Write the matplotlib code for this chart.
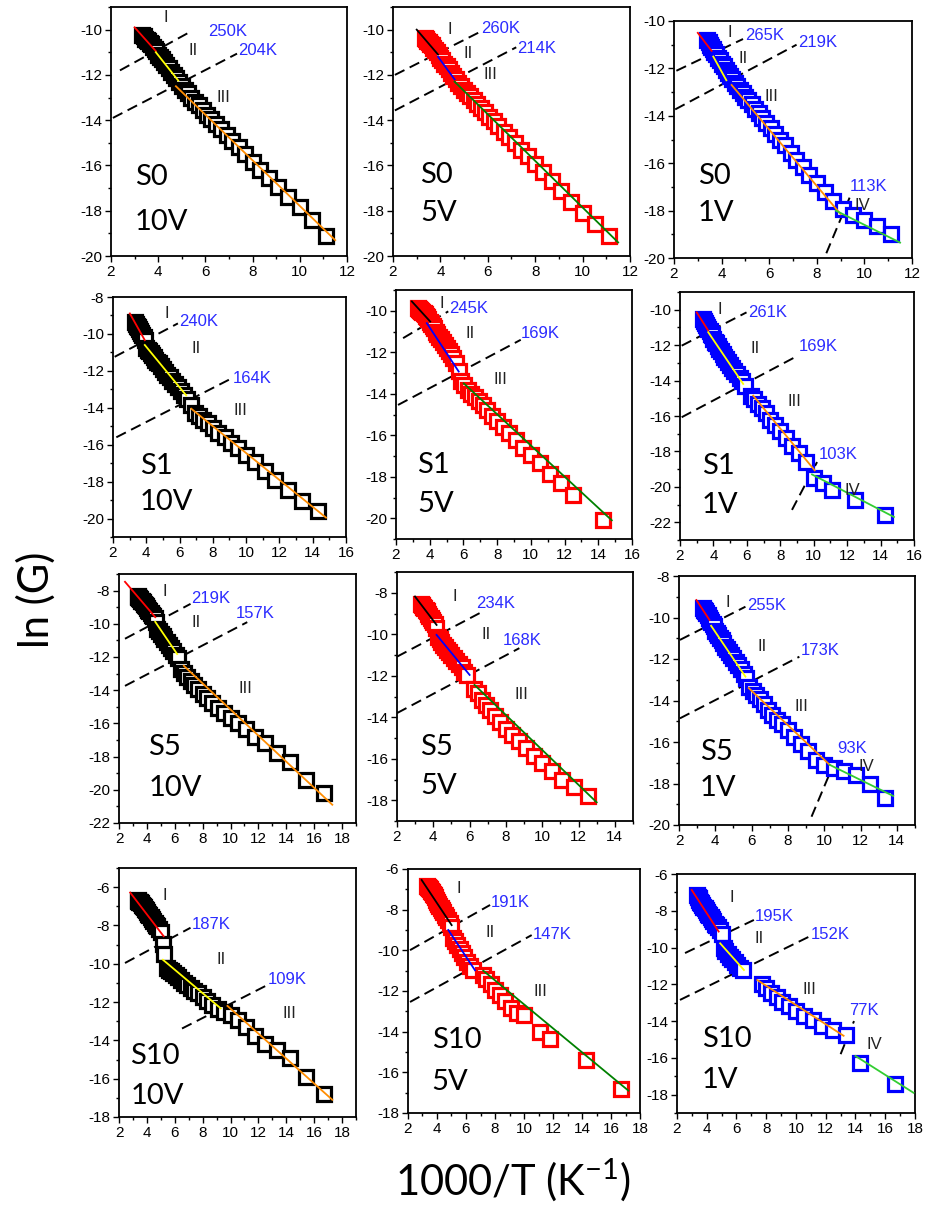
import numpy as np
import matplotlib.pyplot as plt
from matplotlib.ticker import MultipleLocator

plt.rcParams['axes.unicode_minus'] = False
nan = np.nan

# 1000/T (K^-1): 300 K down to 60 K in 5 K steps
x_grid = [3.33, 3.39, 3.45, 3.51, 3.57, 3.64, 3.70, 3.77, 3.85, 3.92,
          4.00, 4.08, 4.17, 4.26, 4.35, 4.44, 4.55, 4.65, 4.76, 4.88,
          5.00, 5.13, 5.26, 5.41, 5.56, 5.71, 5.88, 6.06, 6.25, 6.45,
          6.67, 6.90, 7.14, 7.41, 7.69, 8.00, 8.33, 8.70, 9.09, 9.52,
          10.00, 10.53, 11.11, 11.76, 12.50, 13.33, 14.29, 15.38, 16.67]

# ln(G), one list per sample / bias
s0_10v = [-10.25, -10.3, -10.4, -10.45, -10.5, -10.6, -10.65, -10.75, -10.85, -10.95,
          -11.1, -11.2, -11.3, -11.45, -11.55, -11.7, -11.85, -12.0, -12.15, -12.3,
          -12.5, -12.65, -12.8, -13.0, -13.2, -13.35, -13.55, -13.75, -13.95, -14.15,
          -14.4, -14.65, -14.9, -15.2, -15.5, -15.85, -16.2, -16.55, -16.95, -17.4,
          -17.85, -18.4, -19.1, nan, nan, nan, nan, nan, nan]
s0_5v = [-10.35, -10.4, -10.5, -10.55, -10.65, -10.7, -10.8, -10.9, -11.0, -11.1,
         -11.25, -11.35, -11.5, -11.6, -11.75, -11.9, -12.05, -12.2, -12.35, -12.5,
         -12.65, -12.8, -12.95, -13.1, -13.3, -13.45, -13.65, -13.85, -14.05, -14.25,
         -14.5, -14.75, -15.0, -15.3, -15.6, -15.95, -16.3, -16.7, -17.15, -17.6,
         -18.1, -18.6, -19.1, nan, nan, nan, nan, nan, nan]
s0_1v = [nan, -10.8, -10.9, -11.0, -11.1, -11.2, -11.3, -11.4, -11.55, -11.65,
         -11.8, -11.9, -12.05, -12.2, -12.3, -12.45, -12.6, -12.75, -12.9, -13.05,
         -13.2, -13.35, -13.5, -13.7, -13.9, -14.1, -14.3, -14.5, -14.75, -15.0,
         -15.25, -15.55, -15.85, -16.15, -16.5, -16.85, -17.2, -17.6, -17.95, -18.2,
         -18.4, -18.65, -19.0, nan, nan, nan, nan, nan, nan]
s1_10v = [-9.35, -9.45, -9.55, -9.65, -9.75, -9.85, -9.95, -10.05, -10.15, -10.35,
          -10.75, -10.85, -10.95, -11.05, -11.15, -11.25, -11.4, -11.5, -11.6, -11.75,
          -11.9, -12.05, -12.2, -12.35, -12.55, -12.7, -12.9, -13.1, -13.3, -13.55,
          -13.85, -14.3, -14.45, -14.65, -14.85, -15.1, -15.35, -15.6, -15.9, -16.2,
          -16.55, -16.95, -17.4, -17.9, -18.45, -19.05, -19.6, nan, nan]
s1_5v = [-9.85, -9.9, -9.95, -10.0, -10.05, -10.1, -10.15, -10.25, -10.3, -10.4,
         -10.55, -10.65, -10.75, -10.85, -11.0, -11.1, -11.25, -11.35, -11.5, -11.65,
         -11.8, -11.95, -12.1, -12.3, -12.5, -12.9, -13.4, -13.6, -13.8, -14.0,
         -14.15, -14.35, -14.55, -14.8, -15.05, -15.3, -15.6, -15.9, -16.25, -16.6,
         -16.95, -17.35, -17.85, -18.3, -18.9, nan, -20.1, nan, nan]
s1_1v = [nan, -10.55, -10.65, -10.75, -10.85, -10.95, -11.1, -11.2, -11.35, -11.45,
         -11.65, -11.8, -11.9, -12.05, -12.2, -12.35, -12.5, -12.65, -12.8, -12.95,
         -13.1, -13.3, -13.45, -13.65, -13.85, -14.05, -14.3, nan, -14.85, -15.05,
         -15.3, -15.55, -15.85, -16.2, -16.5, -16.85, -17.25, -17.7, -18.1, -18.6,
         -19.5, -19.8, -20.15, nan, -20.75, nan, -21.6, nan, nan]
s5_10v = [-8.35, -8.4, -8.45, -8.5, -8.6, -8.65, -8.7, -8.8, -8.85, -8.95,
          -9.05, -9.15, -9.25, -9.35, -9.45, -9.55, -9.65, -9.9, -10.3, -10.45,
          -10.6, -10.75, -10.9, -11.1, -11.3, -11.45, -11.65, -11.85, -12.05, -12.7,
          -12.95, -13.2, -13.45, -13.7, -13.95, -14.2, -14.45, -14.75, -15.05, -15.4,
          -15.65, -16.0, -16.35, -16.8, -17.2, -17.8, -18.3, -19.4, -20.2]
s5_5v = [-8.55, -8.6, -8.7, -8.75, -8.85, -8.9, -9.0, -9.1, -9.2, -9.3,
         -9.4, -9.5, -9.7, -10.15, -10.25, -10.35, -10.5, -10.6, -10.75, -10.85,
         -11.0, -11.15, -11.3, -11.45, -11.6, -11.8, -11.95, nan, -12.65, -12.85,
         -13.15, -13.4, -13.65, -13.95, -14.25, -14.55, -14.85, -15.15, -15.5, -15.85,
         -16.2, -16.6, -17.0, -17.35, -17.8, nan, nan, nan, nan]
s5_1v = [-9.55, -9.65, -9.7, -9.8, -9.9, -10.0, -10.1, -10.2, -10.3, -10.4,
         -10.65, -10.75, -10.85, -11.0, -11.1, -11.25, -11.4, -11.5, -11.65, -11.8,
         -11.95, -12.15, -12.3, -12.5, -12.7, -12.9, -13.35, -13.55, -13.75, -13.95,
         -14.15, -14.45, -14.7, -14.95, -15.15, -15.4, -15.75, -16.1, -16.45, -16.85,
         -17.1, -17.25, -17.4, -17.6, -18.0, -18.7, nan, nan, nan]
s10_10v = [-6.65, -6.7, -6.75, -6.8, -6.85, -6.95, -7.0, -7.05, -7.15, -7.2,
           -7.3, -7.4, -7.45, -7.55, -7.65, -7.75, -7.85, -7.95, -8.05, -8.2,
           -8.35, -8.95, -9.5, -10.2, -10.3, -10.4, -10.5, -10.6, -10.7, -10.85,
           -11.0, -11.1, -11.25, -11.4, -11.55, -11.75, -11.95, -12.15, -12.35, -12.5,
           -12.7, -12.95, -13.3, -13.75, -14.2, -14.5, -14.9, -15.9, -16.8]
s10_5v = [-6.85, -6.9, -6.95, -7.0, -7.1, -7.15, -7.25, -7.3, -7.4, -7.5,
          -7.6, -7.7, -7.8, -7.9, -8.0, -8.1, -8.25, -8.35, -8.5, -8.65,
          -8.85, -9.4, -9.55, -9.75, -9.95, -10.15, -10.35, -10.55, -10.75, -10.95,
          nan, nan, -11.2, -11.4, -11.65, -11.95, -12.2, -12.5, -12.85, -13.1,
          -13.2, nan, -14.0, -14.35, nan, nan, -15.4, nan, -16.8]
s10_1v = [-7.15, -7.25, -7.3, -7.4, -7.5, -7.6, -7.7, -7.8, -7.85, -7.95,
          -8.05, -8.15, -8.25, -8.35, -8.45, -8.55, -8.7, -8.8, -8.9, -9.05,
          -9.25, -10.05, -10.2, -10.35, -10.5, -10.65, -10.8, -10.95, -11.1, -11.2,
          nan, nan, nan, nan, -12.0, -12.2, -12.45, -12.7, -12.95, -13.2,
          -13.45, -13.7, -13.95, -14.25, -14.5, -14.75, -16.3, nan, -17.4]

panel_data = [s0_10v, s0_5v, s0_1v, s1_10v, s1_5v, s1_1v,
              s5_10v, s5_5v, s5_1v, s10_10v, s10_5v, s10_1v]
samples = ['S0', 'S1', 'S5', 'S10']
biases = ['10V', '5V', '1V']
marker_colors = ['black', 'red', 'blue']

x_limits = [(2, 12)] * 3 + [(2, 16)] * 3 + [(2, 19), (2, 15), (2, 15)] + [(2, 19), (2, 18), (2, 18)]
y_limits = [(-20, -9), (-20, -9), (-20, -10), (-21, -8), (-21, -9), (-23, -9),
            (-22, -7), (-19, -7), (-20, -8), (-18, -5), (-18, -6), (-19, -6)]

# fitted segments: x0, x1, y0, y1, colour
fit_lines = [
    [(3.0, 3.9, -9.9, -10.95, 'red'), (3.9, 4.85, -11.0, -12.25, 'yellow'), (4.75, 11.5, -12.5, -19.3, 'darkorange')],
    [(3.0, 3.9, -10.0, -11.1, 'black'), (3.9, 4.6, -11.2, -12.2, 'blue'), (4.6, 11.5, -12.3, -19.4, 'green')],
    [(3.0, 3.58, -10.5, -11.26, 'red'), (3.65, 4.2, -11.5, -12.5, 'yellow'), (4.42, 9.0, -12.7, -18.15, 'darkorange'), (8.8, 11.5, -18.0, -19.35, 'limegreen')],
    [(3.01, 3.91, -8.89, -10.34, 'red'), (3.91, 6.4, -10.6, -13.33, 'yellow'), (6.7, 14.8, -14.05, -19.95, 'darkorange')],
    [(2.94, 4.03, -9.55, -10.52, 'black'), (3.83, 5.72, -10.6, -12.93, 'blue'), (6.02, 14.8, -13.5, -20.1, 'green')],
    [(3.0, 3.69, -10.15, -11.18, 'red'), (3.69, 5.78, -11.27, -14.19, 'yellow'), (6.38, 10.06, -14.85, -19.07, 'darkorange'), (9.9, 14.8, -19.3, -21.7, 'limegreen')],
    [(2.43, 4.6, -7.47, -9.6, 'red'), (4.6, 6.17, -9.88, -11.82, 'yellow'), (6.65, 17.3, -12.53, -20.9, 'darkorange')],
    [(2.99, 4.18, -8.18, -9.55, 'black'), (4.18, 6.0, -10.03, -11.96, 'blue'), (6.27, 13.0, -12.44, -18.1, 'green')],
    [(2.96, 3.68, -9.16, -10.12, 'red'), (3.77, 5.66, -10.4, -12.85, 'yellow'), (5.84, 10.3, -13.4, -17.1, 'darkorange'), (10.3, 13.8, -17.1, -18.6, 'limegreen')],
    [(2.8, 5.2, -6.28, -8.56, 'red'), (5.15, 9.3, -9.79, -12.33, 'yellow'), (9.78, 17.3, -12.2, -17.1, 'darkorange')],
    [(2.94, 5.01, -6.54, -8.76, 'black'), (4.78, 6.62, -9.0, -10.98, 'blue'), (7.19, 17.2, -11.0, -16.9, 'green')],
    [(2.99, 4.8, -6.87, -9.13, 'red'), (4.9, 6.5, -9.77, -11.22, 'yellow'), (7.4, 13.2, -11.77, -14.8, 'darkorange'), (14.0, 17.9, -15.9, -17.9, 'limegreen')],
]

# dashed region boundaries: x0, x1, y0, y1
boundaries = [
    [(2.38, 5.35, -11.8, -10.1), (2.08, 7.34, -13.9, -11.06)],
    [(2.08, 5.67, -12.0, -10.1), (2.08, 7.2, -13.57, -10.78)],
    [(2.1, 4.9, -12.1, -10.76), (2.05, 7.15, -13.73, -11.0), (8.4, 9.4, -19.8, -17.4)],
    [(2.1, 5.9, -11.24, -9.43), (2.2, 9.1, -15.6, -12.42)],
    [(2.42, 5.1, -11.32, -10.03), (2.12, 9.4, -14.54, -11.4)],
    [(2.1, 5.98, -12.03, -10.15), (2.1, 9.06, -16.07, -12.59), (8.7, 10.2, -21.3, -18.6)],
    [(2.43, 7.13, -10.9, -8.8), (2.43, 11.2, -13.74, -9.9)],
    [(2.0, 6.73, -11.08, -8.9), (2.0, 8.74, -13.8, -10.67)],
    [(2.05, 5.66, -11.08, -9.48), (2.05, 8.63, -14.86, -11.89), (9.3, 10.6, -19.6, -16.9)],
    [(2.43, 7.13, -9.96, -8.12), (6.52, 12.67, -13.38, -11.1)],
    [(2.14, 7.66, -9.99, -7.77), (2.14, 10.53, -12.54, -9.25)],
    [(2.54, 7.17, -10.3, -8.5), (2.2, 10.9, -12.85, -9.4), (13.0, 13.9, -15.8, -14.0)],
]

temp_labels = [
    [(6.1, -10.1, '250K'), (7.4, -10.9, '204K')],
    [(5.7, -9.96, '260K'), (7.25, -10.85, '214K')],
    [(4.98, -10.6, '265K'), (7.2, -10.9, '219K'), (9.4, -17.0, '113K')],
    [(5.97, -9.35, '240K'), (9.2, -12.4, '164K')],
    [(5.17, -9.9, '245K'), (9.4, -11.1, '169K')],
    [(6.05, -10.15, '261K'), (9.1, -12.1, '169K'), (10.3, -18.2, '103K')],
    [(7.2, -8.5, '219K'), (10.4, -9.4, '157K')],
    [(6.37, -8.5, '234K'), (7.83, -10.3, '168K')],
    [(5.75, -9.4, '255K'), (8.7, -11.6, '173K'), (10.7, -16.3, '93K')],
    [(7.2, -7.95, '187K'), (12.7, -10.8, '109K')],
    [(7.7, -7.65, '191K'), (10.6, -9.2, '147K')],
    [(7.2, -8.3, '195K'), (11.0, -9.3, '152K'), (13.6, -13.4, '77K')],
]

region_labels = [
    [(4.33, -9.46, 'I'), (5.47, -10.93, 'II'), (6.75, -12.98, 'III')],
    [(4.4, -10.0, 'I'), (5.17, -11.07, 'II'), (6.1, -12.0, 'III')],
    [(4.35, -10.48, 'I'), (4.9, -11.6, 'II'), (6.1, -13.2, 'III'), (9.9, -17.8, 'IV')],
    [(5.24, -8.89, 'I'), (6.98, -10.79, 'II'), (9.67, -14.14, 'III')],
    [(4.73, -9.65, 'I'), (6.42, -11.1, 'II'), (8.2, -13.3, 'III')],
    [(4.39, -10.0, 'I'), (6.48, -12.2, 'II'), (8.87, -15.2, 'III'), (12.3, -20.2, 'IV')],
    [(5.3, -8.08, 'I'), (7.5, -9.95, 'II'), (11.1, -13.9, 'III')],
    [(5.18, -8.2, 'I'), (6.9, -10.0, 'II'), (8.83, -12.9, 'III')],
    [(4.67, -9.3, 'I'), (6.56, -11.4, 'II'), (8.72, -14.3, 'III'), (12.3, -17.2, 'IV')],
    [(5.32, -6.46, 'I'), (9.3, -9.8, 'II'), (14.2, -12.6, 'III')],
    [(5.47, -6.95, 'I'), (7.66, -9.1, 'II'), (11.1, -12.0, 'III')],
    [(5.7, -7.3, 'I'), (7.5, -9.5, 'II'), (10.9, -12.3, 'III'), (15.3, -15.3, 'IV')],
]

# position of the sample / bias caption (x, y of first line, y of second line)
caption_pos = [(3.0, -16.5, -18.5), (3.14, -16.4, -18.1), (3.0, -16.55, -18.1),
               (3.6, -17.13, -19.1), (3.24, -17.44, -19.3), (3.3, -18.8, -21.0),
               (4.1, -17.4, -19.9), (3.26, -15.42, -17.3), (3.14, -16.47, -18.2),
               (2.8, -14.8, -16.9), (3.63, -14.4, -16.5), (3.67, -15.0, -17.2)]

# axes boxes in pixels (left, top, right, bottom)
boxes = [(111, 7, 347, 256), (393, 7, 630, 256), (674, 21, 912, 258),
         (113, 297, 346, 537), (396, 290, 632, 539), (680, 292, 914, 540),
         (119, 574, 356, 823), (397, 572, 633, 821), (679, 576, 915, 825),
         (119, 868, 356, 1117), (408, 869, 640, 1113), (677, 874, 915, 1113)]

W, H = 928, 1215
fig = plt.figure(figsize=(W / 100, H / 100), dpi=100)

for i in range(12):
    l, t, r, b = boxes[i]
    ax = fig.add_axes([l / W, 1 - b / H, (r - l) / W, (b - t) / H])
    col = marker_colors[i % 3]

    for (x0, x1, y0, y1) in boundaries[i]:
        ax.plot([x0, x1], [y0, y1], color='black', lw=1.4, dashes=(5.5, 3), zorder=1)

    ax.plot(x_grid, panel_data[i], ls='none', marker='s', ms=9.8, mew=2.3,
            mec=col, mfc='white', zorder=2)

    for (x0, x1, y0, y1, c) in fit_lines[i]:
        ax.plot([x0, x1], [y0, y1], color=c, lw=1.3, zorder=3)

    for (x, y, s) in temp_labels[i]:
        ax.text(x, y, s, color='#2b2bff', fontsize=12, family='Liberation Sans',
                ha='left', va='center', zorder=4)
    for (x, y, s) in region_labels[i]:
        ax.text(x, y, s, color='#222222', fontsize=12, family='Liberation Sans',
                ha='center', va='center', zorder=4)

    cx, cy1, cy2 = caption_pos[i]
    ax.text(cx, cy1, samples[i // 3], fontsize=21, family='Lato', ha='left', va='center', zorder=4)
    ax.text(cx, cy2, biases[i % 3], fontsize=21, family='Lato', ha='left', va='center', zorder=4)

    ax.set_xlim(*x_limits[i])
    ax.set_ylim(*y_limits[i])
    ax.xaxis.set_major_locator(MultipleLocator(2))
    ax.xaxis.set_minor_locator(MultipleLocator(1))
    ax.yaxis.set_major_locator(MultipleLocator(2))
    ax.yaxis.set_minor_locator(MultipleLocator(1))
    ax.tick_params(which='both', direction='out', top=False, right=False,
                   labelsize=11, width=1.0, pad=2)
    ax.tick_params(which='major', length=4.5)
    ax.tick_params(which='minor', length=2.5)
    for lab in ax.get_xticklabels() + ax.get_yticklabels():
        lab.set_family('Liberation Sans')
    for sp in ax.spines.values():
        sp.set_linewidth(1.3)

fig.text(36 / W, 1 - 600 / H, 'ln (G)', rotation=90, fontsize=30, family='Lato',
         ha='center', va='center')
fig.text(513 / W, 1 - 1180 / H, '1000/T (K$\\mathregular{^{-1}}$)', fontsize=30,
         family='Lato', ha='center', va='center')

fig.savefig('out.png', dpi=100)
